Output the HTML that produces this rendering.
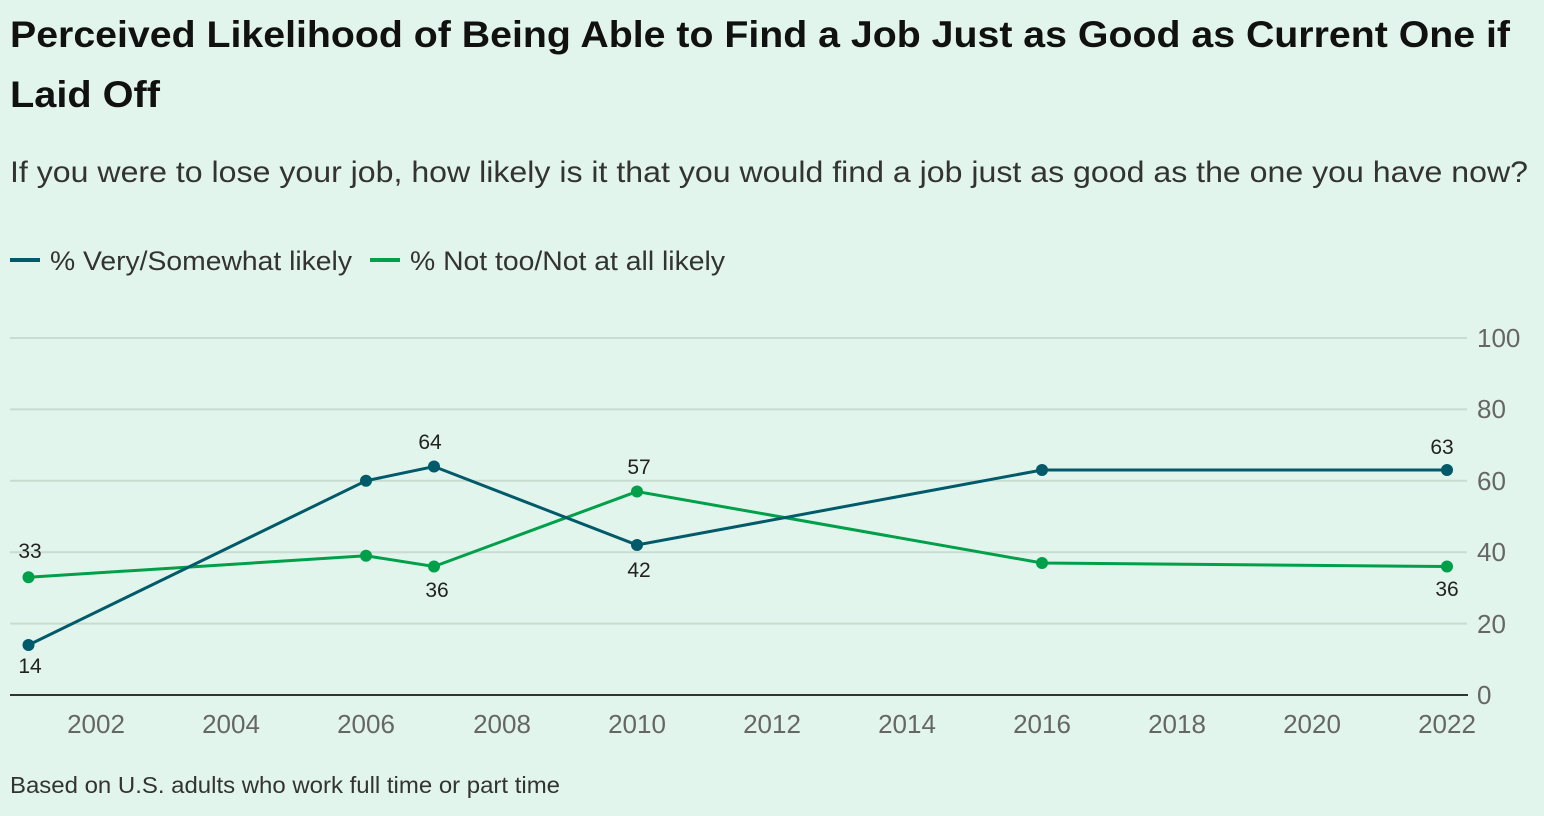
<!DOCTYPE html>
<html><head><style>
body{margin:0;width:1544px;height:816px;background:#e2f5ec;font-family:"Liberation Sans",sans-serif;overflow:hidden}
</style></head><body>
<svg width="1544" height="816" xmlns="http://www.w3.org/2000/svg" style="position:absolute;left:0;top:0">
<text x="10" y="47" font-size="37" font-weight="bold" fill="#111" textLength="1500" lengthAdjust="spacingAndGlyphs">Perceived Likelihood of Being Able to Find a Job Just as Good as Current One if</text>
<text x="10" y="107" font-size="37" font-weight="bold" fill="#111" textLength="150" lengthAdjust="spacingAndGlyphs">Laid Off</text>
<text x="10" y="182" font-size="30" fill="#333" textLength="1518" lengthAdjust="spacingAndGlyphs">If you were to lose your job, how likely is it that you would find a job just as good as the one you have now?</text>
<line x1="10" y1="260" x2="40" y2="260" stroke="#005a6a" stroke-width="4"/>
<text x="50" y="270" font-size="27" fill="#333" textLength="302" lengthAdjust="spacingAndGlyphs">% Very/Somewhat likely</text>
<line x1="370" y1="260" x2="400" y2="260" stroke="#00a04a" stroke-width="4"/>
<text x="410" y="270" font-size="27" fill="#333" textLength="315" lengthAdjust="spacingAndGlyphs">% Not too/Not at all likely</text>
<g stroke="#c9dcd2" stroke-width="2">
<line x1="10" x2="1467" y1="338" y2="338"/><line x1="10" x2="1467" y1="409.4" y2="409.4"/>
<line x1="10" x2="1467" y1="480.8" y2="480.8"/><line x1="10" x2="1467" y1="552.2" y2="552.2"/>
<line x1="10" x2="1467" y1="623.6" y2="623.6"/>
</g>
<line x1="10" x2="1468" y1="695" y2="695" stroke="#333" stroke-width="2"/>
<g font-size="26" fill="#666">
<text x="1477" y="347">100</text><text x="1477" y="418">80</text><text x="1477" y="490">60</text>
<text x="1477" y="561">40</text><text x="1477" y="633">20</text><text x="1477" y="704">0</text>
</g>
<g font-size="26" fill="#666" text-anchor="middle">
<text x="96" y="733">2002</text><text x="231" y="733">2004</text><text x="366" y="733">2006</text>
<text x="502" y="733">2008</text><text x="637" y="733">2010</text><text x="772" y="733">2012</text>
<text x="907" y="733">2014</text><text x="1042" y="733">2016</text><text x="1177" y="733">2018</text>
<text x="1312" y="733">2020</text><text x="1447" y="733">2022</text>
</g>
<polyline fill="none" stroke="#00a04a" stroke-width="3" points="28.5,577.2 366,555.8 434,566.5 637,491.5 1042,563 1447,566.5"/>
<polyline fill="none" stroke="#005a6a" stroke-width="3" points="28.5,645 366,480.8 434,466.5 637,545 1042,470 1447,470"/>
<g fill="#00a04a"><circle cx="28.5" cy="577.2" r="6"/><circle cx="366" cy="555.8" r="6"/><circle cx="434" cy="566.5" r="6"/><circle cx="637" cy="491.5" r="6"/><circle cx="1042" cy="563" r="6"/><circle cx="1447" cy="566.5" r="6"/></g>
<g fill="#005a6a"><circle cx="28.5" cy="645" r="6"/><circle cx="366" cy="480.8" r="6"/><circle cx="434" cy="466.5" r="6"/><circle cx="637" cy="545" r="6"/><circle cx="1042" cy="470" r="6"/><circle cx="1447" cy="470" r="6"/></g>
<g font-size="21" fill="#222" text-anchor="middle">
<text x="30" y="558">33</text><text x="30" y="673">14</text><text x="430" y="449">64</text>
<text x="437" y="597">36</text><text x="639" y="474">57</text><text x="639" y="577">42</text>
<text x="1442" y="454">63</text><text x="1447" y="596">36</text>
</g>
<text x="10" y="793" font-size="23" fill="#333" textLength="550" lengthAdjust="spacingAndGlyphs">Based on U.S. adults who work full time or part time</text>
</svg>
</body></html>
